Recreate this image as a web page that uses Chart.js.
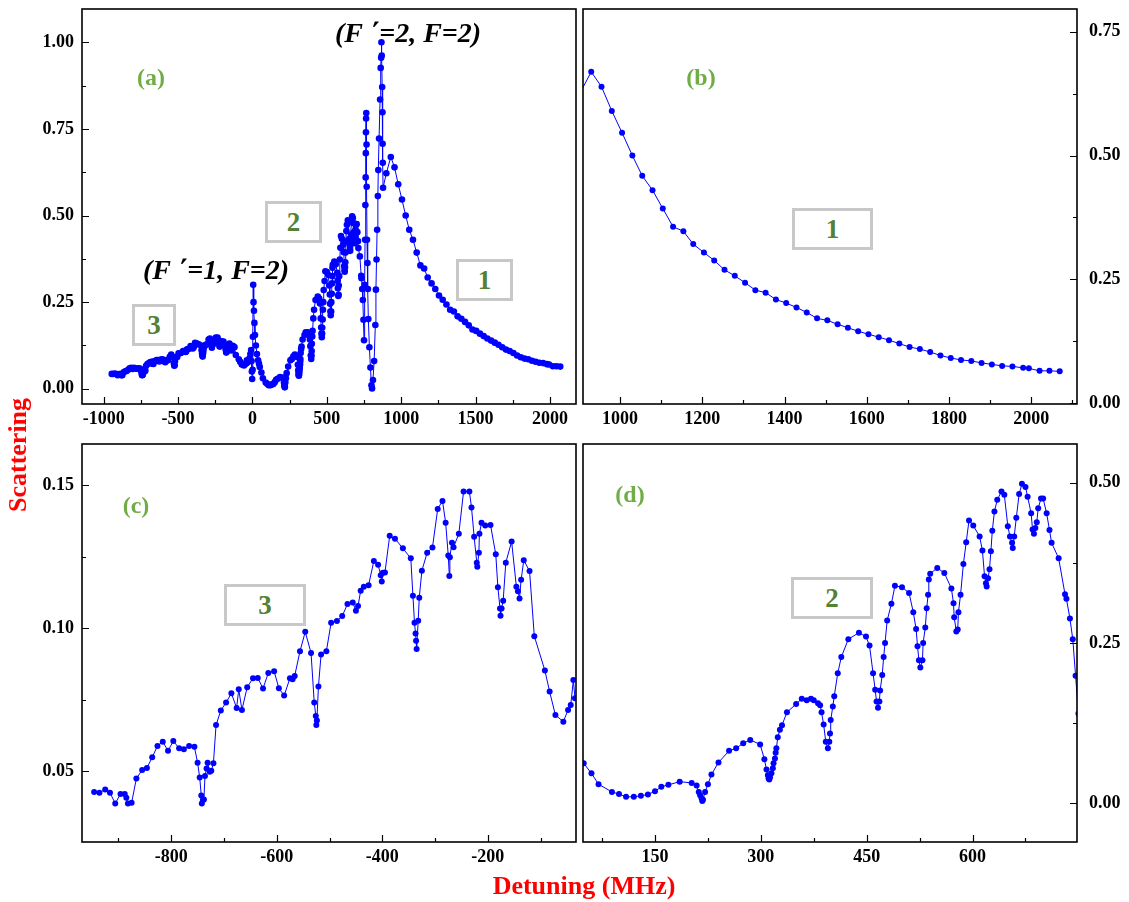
<!DOCTYPE html>
<html>
<head>
<meta charset="utf-8">
<script src="https://cdn.jsdelivr.net/npm/chart.js@4.4.1/dist/chart.umd.min.js"></script>
<style>
  body { margin: 0; background: #fff; }
  #page { position: relative; width: 1129px; height: 902px; overflow: hidden; font-family: "Liberation Serif", "Times New Roman", serif; }
  .pane { position: absolute; }
  .txt { position: absolute; white-space: nowrap; font-weight: bold; transform: translate(-50%, -50%); }
  .tag { color: #70ad47; font-size: 24px; }
  .trans { color: #000; font-size: 28px; font-style: italic; }
  .axt { color: #ff0000; font-size: 26px; }
  .box { position: absolute; box-sizing: border-box; border: 3px solid #c8c8c8; background: #fff;
         display: flex; align-items: center; justify-content: center;
         color: #548235; font-size: 27px; font-weight: bold; }
</style>
</head>
<body>
<div id="page">
  <div class="pane" style="left:0;top:0"><canvas id="pa" width="580" height="432"></canvas></div>
  <div class="pane" style="left:580px;top:0"><canvas id="pb" width="549" height="432"></canvas></div>
  <div class="pane" style="left:0;top:432px"><canvas id="pc" width="580" height="440"></canvas></div>
  <div class="pane" style="left:580px;top:432px"><canvas id="pd" width="549" height="440"></canvas></div>

  <div class="txt tag" style="left:151px;top:77px">(a)</div>
  <div class="txt tag" style="left:701px;top:77px">(b)</div>
  <div class="txt tag" style="left:136px;top:505px">(c)</div>
  <div class="txt tag" style="left:630px;top:494px">(d)</div>

  <div class="txt trans" style="left:408px;top:33px">(F&nbsp;&#x0384;=2, F=2)</div>
  <div class="txt trans" style="left:216px;top:270px">(F&nbsp;&#x0384;=1, F=2)</div>

  <div class="box" style="left:132px;top:304px;width:44px;height:42px">3</div>
  <div class="box" style="left:265px;top:201px;width:57px;height:42px">2</div>
  <div class="box" style="left:456px;top:259px;width:57px;height:42px">1</div>
  <div class="box" style="left:792px;top:208px;width:81px;height:42px">1</div>
  <div class="box" style="left:224px;top:584px;width:82px;height:42px">3</div>
  <div class="box" style="left:791px;top:577px;width:82px;height:42px">2</div>

  <div class="txt axt" style="left:18px;top:455px;transform:translate(-50%,-50%) rotate(-90deg)">Scattering</div>
  <div class="txt axt" style="left:584px;top:886px">Detuning (MHz)</div>
</div>

<script>
// red-detuned wing (region 3)
const farX = [-946,-936,-925,-916,-906,-896,-888,-885,-882,-875,-866,-855,-846,-836,-826,-816,-806,-796,-785,-776,
  -766,-756,-750,-746,-743,-742,-740,-738,-736,-733,-731,-727,-724,-720,-715,-706,-696,-686,-676,-672,
  -666,-656,-645,-636,-626,-616,-605,-596,-586,-575,-570,-566,-556,-546,-535,-529,-526,-525,-524,-521,
  -516,-506,-497,-486,-476,-466,-456,-450,-446,-441,-435,-426,-416,-408,-403,-401,-399,-395,-386,-376,
  -361,-346,-342,-339,-337,-336,-335,-332,-330,-325,-315,-305,-295,-286,-280,-275,-273,-272,-268,-265,
  -255,-246,-235,-231,-226,-221,-220,-217,-216,-212,-205,-195,-185,-181,-177,-176,-174,-171,-166,-155,
  -146,-143,-140,-137,-132,-121,-112,-92,-83,-72,-57,-48,-43,-38,-35];
const farY = [0.0428,0.0425,0.0437,0.0425,0.0388,0.0421,0.0421,0.0408,0.0388,0.0390,0.0475,0.0505,0.0512,0.0549,0.0589,0.0604,0.0572,0.0606,0.0581,0.0577,
  0.0589,0.0586,0.0530,0.0479,0.0416,0.0388,0.0400,0.0402,0.0484,0.0510,0.0530,0.0499,0.0502,0.0528,0.0662,0.0713,0.0741,0.0773,0.0722,0.0787,
  0.0715,0.0794,0.0826,0.0827,0.0790,0.0844,0.0850,0.0791,0.0765,0.0826,0.0822,0.0834,0.0920,0.0988,0.0914,0.0741,0.0694,0.0662,0.0678,0.0797,
  0.0909,0.0920,0.1020,0.1026,0.1043,0.1085,0.1091,0.1062,0.1078,0.1132,0.1146,0.1151,0.1236,0.1223,0.1186,0.1164,0.1195,0.1196,0.1324,0.1314,
  0.1280,0.1245,0.1114,0.1020,0.0982,0.0957,0.0928,0.1027,0.1107,0.1202,0.1265,0.1283,0.1418,0.1446,0.1370,0.1255,0.1183,0.1249,0.1300,0.1284,
  0.1331,0.1479,0.1479,0.1423,0.1321,0.1230,0.1216,0.1265,0.1331,0.1370,0.1360,0.1362,0.1259,0.1144,0.1070,0.1044,0.1070,0.1097,0.1230,0.1304,
  0.1146,0.1130,0.1105,0.1170,0.1238,0.1201,0.0973,0.0853,0.0779,0.0697,0.0674,0.0715,0.0732,0.0820,0.0756];

// around the (F'=1, F=2) line
const zeroX = [-28,-20,-14,-9,-6,-4,-2,1,3,5,7,10,13,17,23,30,38,44];
const zeroY = [0.078,0.088,0.100,0.112,0.080,0.050,0.028,0.055,0.150,0.300,0.250,0.225,0.190,0.155,0.125,0.100,0.082,0.072];

// between the two lines (region 2)
const midX = [49,60,70,89,99,109,120,130,140,150,159,169,185,202,209,212,214,216,217,218,
  221,225,230,240,255,265,275,285,299,305,308,310,311,312,313,315,317,318,320,321,
  322,324,327,330,337,350,358,365,371,375,381,384,386,389,392,395,397,398,399,402,
  404,409,414,424,439,449,454,459,462,464,466,468,469,472,474,476,479,485,490,500,
  510,516,520,522,524,526,529,530,533,535,537,538,540,550,560,570,573,574,577,579,
  580,583,587,591,595,601,610,614,617,619,620,622,624,626,628,631,635,641,645,650,
  653,656,657,659,662,666,670,675,678,683,685,687,689,691,693,697,700,705,709,712,
  722,731,733,738,742,746];
const midY = [0.0625,0.047,0.030,0.018,0.0146,0.0104,0.0104,0.012,0.014,0.019,0.026,0.029,0.034,0.032,0.028,0.018,0.013,0.008,0.004,0.006,
  0.018,0.030,0.045,0.064,0.082,0.086,0.094,0.099,0.092,0.069,0.053,0.044,0.039,0.0375,0.041,0.047,0.055,0.0625,0.070,0.079,
  0.086,0.103,0.115,0.122,0.142,0.155,0.163,0.161,0.163,0.161,0.156,0.153,0.142,0.123,0.096,0.086,0.096,0.109,0.130,0.151,
  0.167,0.203,0.228,0.256,0.266,0.260,0.246,0.203,0.177,0.159,0.149,0.159,0.176,0.200,0.228,0.250,0.285,0.311,0.339,0.337,
  0.328,0.298,0.272,0.245,0.223,0.212,0.223,0.250,0.274,0.304,0.325,0.349,0.358,0.367,0.359,0.335,0.312,0.290,0.268,0.271,
  0.298,0.325,0.373,0.407,0.441,0.433,0.416,0.394,0.354,0.343,0.338,0.351,0.365,0.393,0.425,0.455,0.473,0.486,0.481,0.432,
  0.416,0.406,0.398,0.416,0.445,0.482,0.498,0.493,0.478,0.452,0.427,0.420,0.429,0.438,0.460,0.475,0.475,0.452,0.426,0.406,
  0.382,0.326,0.319,0.288,0.256,0.199];

// around the (F'=2, F=2) line
const peakX = [750,754,757,759,761,762,763,764,765,767,768,770,773,776,779,786,793,800,804,810,
  818,826,830,834,838,843,846,851,858,862,865,867,869,872,874,875,876,878,900];
const peakY = [0.140,0.300,0.430,0.530,0.610,0.680,0.740,0.780,0.796,0.705,0.583,0.430,0.363,0.288,0.201,0.120,0.061,0.010,0.001,0.025,
  0.080,0.184,0.286,0.373,0.459,0.556,0.631,0.722,0.835,0.926,0.955,1.000,0.962,0.871,0.798,0.707,0.652,0.580,0.622];

// blue-detuned tail (region 1)
const tailX = [930,955,980,1005,1030,1054,1079,1104,1129,1154,1178,1204,1229,1254,1279,1304,1329,1354,1379,1404,
  1429,1454,1479,1504,1529,1554,1579,1604,1629,1654,1679,1704,1729,1754,1779,1804,1829,1854,1879,1904,
  1929,1954,1980,1994,2020,2044,2069];
const tailY = [0.669,0.639,0.590,0.546,0.500,0.459,0.430,0.393,0.356,0.347,0.321,0.304,0.288,0.269,0.257,0.243,0.228,0.223,0.209,0.202,
  0.193,0.183,0.171,0.167,0.159,0.152,0.145,0.139,0.133,0.127,0.120,0.113,0.109,0.103,0.096,0.091,0.087,0.085,0.081,0.078,
  0.075,0.074,0.071,0.070,0.065,0.065,0.064];

const detuning = [].concat(farX, zeroX, midX, peakX, tailX);
const scatter = [].concat(farY, zeroY, midY, peakY, tailY);
const pts = detuning.map((x, i) => ({ x: x, y: scatter[i] }));

function steps(a, b, s) {
  const out = [];
  for (let v = a; v <= b + s * 1e-6; v += s) out.push(+v.toFixed(6));
  return out;
}

function isMajor(v, step) {
  const r = v / step;
  return Math.abs(r - Math.round(r)) < 1e-6;
}

// box round each panel + inward ticks (long on labelled values)
const frame = {
  id: 'frame',
  afterDraw(chart) {
    const ctx = chart.ctx, a = chart.chartArea, x = chart.scales.x, y = chart.scales.y;
    ctx.save();
    ctx.strokeStyle = '#000';
    ctx.lineWidth = 1.2;
    ctx.beginPath();
    x.ticks.forEach(t => {
      const px = Math.round(x.getPixelForValue(t.value)) + 0.5;
      const len = t.label ? 7 : 4;
      ctx.moveTo(px, a.bottom);
      ctx.lineTo(px, a.bottom - len);
    });
    y.ticks.forEach(t => {
      const py = Math.round(y.getPixelForValue(t.value)) + 0.5;
      const len = t.label ? 7 : 4;
      if (y.position === 'left') { ctx.moveTo(a.left, py); ctx.lineTo(a.left + len, py); }
      else { ctx.moveTo(a.right, py); ctx.lineTo(a.right - len, py); }
    });
    ctx.stroke();
    ctx.lineWidth = 1.6;
    ctx.strokeRect(a.left, a.top, a.right - a.left, a.bottom - a.top);
    ctx.restore();
  }
};

const tickFont = { family: 'Liberation Serif', size: 18, weight: 'bold' };

function noPad(s) {
  s.paddingTop = 0; s.paddingBottom = 0; s.paddingLeft = 0; s.paddingRight = 0;
}

function panel(id, o) {
  new Chart(document.getElementById(id), {
    type: 'scatter',
    data: {
      datasets: [{
        data: pts,
        showLine: true,
        borderColor: '#0000ff',
        backgroundColor: '#0000ff',
        borderWidth: 1,
        pointRadius: o.r,
        pointBorderWidth: 0,
        pointHoverRadius: o.r
      }]
    },
    options: {
      responsive: false,
      animation: false,
      events: [],
      layout: { padding: o.pad },
      plugins: { legend: { display: false }, tooltip: { enabled: false } },
      scales: {
        x: {
          type: 'linear',
          min: o.xmin, max: o.xmax,
          grid: { display: false, drawTicks: false },
          border: { display: false },
          afterBuildTicks: s => { s.ticks = o.xt.map(v => ({ value: v })); },
          afterFit: s => { s.height = o.xh; noPad(s); },
          ticks: {
            autoSkip: false, maxRotation: 0, padding: 5, color: '#000', font: tickFont,
            callback: v => isMajor(v, o.xs) ? String(v) : ''
          }
        },
        y: {
          type: 'linear',
          position: o.ypos,
          min: o.ymin, max: o.ymax,
          grid: { display: false, drawTicks: false },
          border: { display: false },
          afterBuildTicks: s => { s.ticks = o.yt.map(v => ({ value: v })); },
          afterFit: s => { s.width = o.yw; noPad(s); },
          ticks: {
            autoSkip: false, padding: o.ypos === 'left' ? 8 : 12, color: '#000', font: tickFont,
            callback: v => isMajor(v, o.ys) ? v.toFixed(2) : ''
          }
        }
      }
    },
    plugins: [frame]
  });
}

panel('pa', { xmin: -1146, xmax: 2175, ymin: -0.044, ymax: 1.096,
  xt: steps(-1000, 2000, 250), xs: 500, yt: steps(0, 1, 0.125), ys: 0.25,
  ypos: 'left', yw: 82, xh: 28, r: 3.3, pad: { top: 9, right: 4, left: 0, bottom: 0 } });

panel('pb', { xmin: 910, xmax: 2111, ymin: -0.002, ymax: 0.796,
  xt: steps(1000, 2100, 100), xs: 200, yt: steps(0, 0.75, 0.125), ys: 0.25,
  ypos: 'right', yw: 52, xh: 28, r: 3, pad: { top: 9, right: 0, left: 2, bottom: 0 } });

panel('pc', { xmin: -969, xmax: -33, ymin: 0.0253, ymax: 0.1645,
  xt: steps(-900, -100, 100), xs: 200, yt: steps(0.05, 0.15, 0.025), ys: 0.05,
  ypos: 'left', yw: 82, xh: 30, r: 3, pad: { top: 12, right: 4, left: 0, bottom: 0 } });

panel('pd', { xmin: 48, xmax: 748, ymin: -0.06, ymax: 0.56,
  xt: steps(75, 675, 75), xs: 150, yt: steps(0, 0.5, 0.125), ys: 0.25,
  ypos: 'right', yw: 52, xh: 30, r: 3, pad: { top: 12, right: 0, left: 2, bottom: 0 } });
</script>
</body>
</html>
